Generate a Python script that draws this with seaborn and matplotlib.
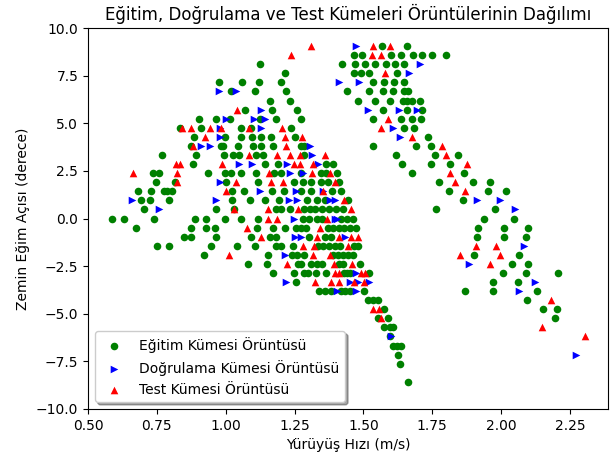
import matplotlib
matplotlib.use("Agg")
import matplotlib.pyplot as plt
import seaborn as sns
import pandas as pd

# slope level (degrees) -> walking speeds (m/s)
train_rows = {
    9.05: [1.567, 1.657],
    8.57: [1.464, 1.495, 1.601, 1.635, 1.679, 1.712, 1.750, 1.800],
    8.10: [1.123, 1.423, 1.470, 1.506, 1.542, 1.582, 1.615, 1.649],
    7.62: [1.216, 1.465, 1.492, 1.520, 1.622],
    7.14: [0.974, 1.059, 1.122, 1.201, 1.534, 1.576, 1.610, 1.647],
    6.67: [1.020, 1.108, 1.220, 1.440, 1.522, 1.570, 1.607, 1.649, 1.661],
    6.19: [1.159, 1.232, 1.480, 1.542, 1.595, 1.645, 1.657, 1.676, 1.704],
    5.71: [1.071, 1.168, 1.259, 1.571, 1.659, 1.712],
    5.24: [0.903, 0.966, 1.014, 1.125, 1.183, 1.272, 1.536, 1.637, 1.676, 1.709],
    4.76: [0.833, 0.909, 1.054, 1.093, 1.238, 1.647, 1.683],
    4.29: [0.885, 0.996, 1.056, 1.095, 1.127, 1.163, 1.250, 1.734],
    3.81: [0.875, 0.984, 0.990, 1.044, 1.099, 1.127, 1.171, 1.272, 1.284, 1.534, 1.691, 1.746],
    3.33: [0.770, 0.891, 0.993, 1.026, 1.050, 1.111, 1.135, 1.286, 1.619, 1.760, 1.843],
    2.86: [0.882, 1.143, 1.189, 1.365, 1.389, 1.639, 1.746, 1.816],
    2.38: [0.736, 0.758, 0.935, 0.996, 1.020, 1.056, 1.111, 1.177, 1.201, 1.274, 1.347,
           1.365, 1.404, 1.676, 1.864],
    1.90: [0.748, 0.817, 1.002, 1.117, 1.247, 1.280, 1.310, 1.347, 1.371, 1.410, 1.776,
           1.897, 1.961],
    1.43: [0.681, 0.730, 0.776, 0.788, 0.805, 1.022, 1.065, 1.169, 1.211, 1.272, 1.310,
           1.385, 1.419, 1.810, 1.951, 2.018],
    0.95: [0.693, 0.724, 0.793, 1.024, 1.089, 1.143, 1.192, 1.296, 1.332, 1.360, 1.443, 1.861],
    0.48: [0.703, 0.963, 1.030, 1.183, 1.201, 1.235, 1.285, 1.305, 1.325, 1.350, 1.375,
           1.400, 1.425, 1.763, 1.979],
    0.00: [0.587, 0.631, 0.739, 0.887, 0.927, 0.996, 1.056, 1.117, 1.280, 1.304, 1.330,
           1.350, 1.420, 1.440, 1.462, 1.939, 2.045],
    -0.48: [0.675, 0.875, 0.927, 0.962, 1.114, 1.171, 1.214, 1.256, 1.272, 1.292, 1.370,
            1.390, 1.410, 1.430, 1.450, 1.474, 1.915, 2.009, 2.099],
    -0.95: [0.847, 0.873, 0.966, 1.093, 1.159, 1.183, 1.304, 1.359, 1.383, 1.911, 2.009, 2.090],
    -1.43: [0.750, 0.793, 0.945, 1.041, 1.108, 1.183, 1.200, 1.244, 1.335, 1.355, 1.375,
            1.395, 1.415, 1.465, 1.480],
    -1.90: [0.920, 1.153, 1.240, 1.260, 1.286, 1.390, 1.407, 1.425, 1.445, 1.462, 1.903, 2.066],
    -2.38: [1.080, 1.151, 1.262, 1.275, 1.310, 1.330, 1.350, 1.410, 1.425, 1.486, 2.040, 2.099],
    -2.86: [1.171, 1.247, 1.286, 1.300, 1.328, 1.365, 1.429, 1.440, 1.453, 1.522, 2.008,
            2.090, 2.205],
    -3.33: [1.256, 1.972, 2.063],
    -3.81: [1.340, 1.360, 1.383, 1.420, 1.432, 1.450, 1.501, 1.867, 1.972, 2.130],
    -4.29: [1.516, 1.534, 1.552, 2.094],
    -4.76: [1.576, 2.151, 2.202],
    -5.24: [1.552, 1.589, 2.196],
    -5.71: [1.576, 1.595, 1.607],
    -6.19: [1.595],
    -6.67: [1.607, 1.622, 1.635],
    -7.14: [1.625],
    -7.62: [1.631],
    -8.57: [1.661],
}

val_rows = {
    9.05: [1.473],
    8.10: [1.707],
    7.62: [1.667],
    7.14: [1.413, 1.483],
    6.67: [0.974, 1.038],
    5.71: [1.129, 1.516, 1.628, 1.695],
    5.24: [1.002, 1.101, 1.143],
    4.76: [0.978, 1.129, 1.607],
    4.29: [0.978, 1.631],
    3.81: [0.911, 0.942, 1.307],
    3.33: [1.313],
    2.86: [1.048, 1.096, 1.223, 1.335],
    2.38: [1.235, 1.280],
    1.90: [0.980],
    1.43: [1.125, 1.254, 1.353],
    0.95: [0.661, 0.963, 1.228, 1.259, 1.377, 1.395, 1.913, 1.997],
    0.48: [0.758, 2.050],
    0.00: [1.247, 1.395, 1.404],
    -0.95: [1.250, 1.272, 1.434],
    -1.43: [2.084],
    -1.90: [1.217],
    -2.38: [1.882],
    -2.86: [1.474],
    -3.33: [1.220, 1.450, 1.480, 1.522, 2.123],
    -3.81: [1.404, 1.474, 2.064],
    -6.19: [1.601],
    -7.14: [2.270],
}

test_rows = {
    9.05: [1.308, 1.534, 1.598],
    8.57: [1.238, 1.530, 1.564],
    7.62: [1.579],
    5.71: [1.040],
    5.24: [1.590],
    4.76: [0.841, 0.875, 0.942, 0.984, 1.083, 1.204, 1.564],
    4.29: [0.926, 1.217, 1.278, 1.676],
    3.81: [0.881, 1.220, 1.785],
    3.33: [1.084, 1.187, 1.235, 1.268, 1.361, 1.800],
    2.86: [0.818, 0.833, 0.987, 1.247, 1.270, 1.316, 1.876],
    2.38: [0.663, 0.824, 1.157, 1.313, 1.377, 1.816],
    1.90: [0.824, 1.038, 1.165, 1.208, 1.397, 1.833],
    1.43: [1.002, 1.355, 1.870],
    0.95: [1.429],
    0.48: [1.030, 1.153, 1.262, 1.455],
    0.00: [1.153, 1.187, 1.368],
    -0.48: [1.077, 1.341],
    -0.95: [1.127, 1.332, 1.410, 1.455, 1.480],
    -1.43: [1.282, 1.320, 1.443, 1.909, 1.982],
    -1.90: [1.013, 1.316, 1.377, 1.849, 1.996],
    -2.38: [1.223, 1.393, 1.459, 1.961],
    -2.86: [1.397, 1.410, 1.492, 1.505],
    -3.33: [1.325, 1.381, 1.411, 1.464, 1.501],
    -4.29: [2.181],
    -4.76: [1.534, 1.558],
    -5.24: [1.564],
    -5.71: [2.150],
    -6.19: [2.303],
}

labels = ["Eğitim Kümesi Örüntüsü", "Doğrulama Kümesi Örüntüsü", "Test Kümesi Örüntüsü"]
colors = ["green", "blue", "red"]
markers = ["o", ">", "^"]


def to_frame(rows):
    xs, ys = [], []
    for slope, speeds in rows.items():
        for s in speeds:
            xs.append(s)
            ys.append(slope)
    return pd.DataFrame({"speed": xs, "slope": ys})


fig = plt.figure(figsize=(6.13, 4.55), dpi=100)
ax = fig.add_axes([88 / 613, 1 - 409 / 455, (608 - 88) / 613, (409 - 28) / 455])

for rows, lab, col, mk in zip([train_rows, val_rows, test_rows], labels, colors, markers):
    df = to_frame(rows)
    sns.scatterplot(data=df, x="speed", y="slope", color=col, marker=mk, s=30,
                    linewidth=0, label=lab, ax=ax)

ax.set_xlim(0.5, 2.388)
ax.set_ylim(-10, 10)
ax.set_title("Eğitim, Doğrulama ve Test Kümeleri Örüntülerinin Dağılımı")
ax.set_xlabel("Yürüyüş Hızı (m/s)")
ax.set_ylabel("Zemin Eğim Açısı (derece)")
ax.legend(loc="lower left", shadow=True)

fig.savefig("out.png", dpi=100)
